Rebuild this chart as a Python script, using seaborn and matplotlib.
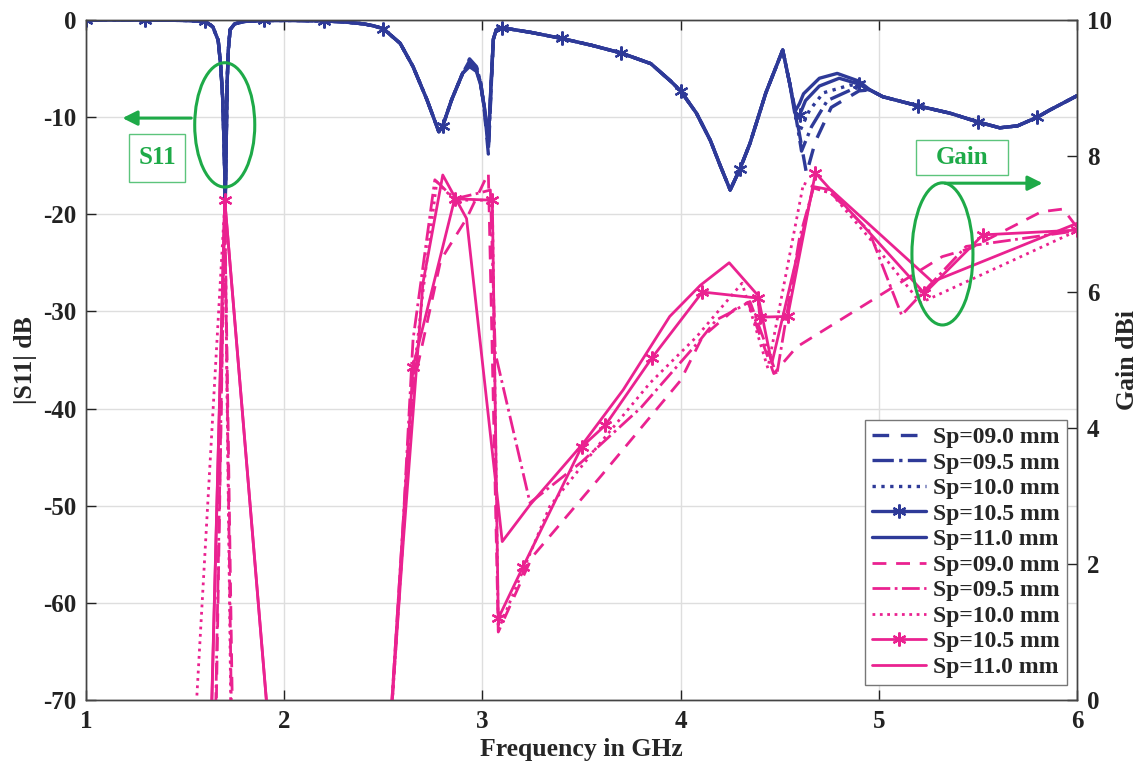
import matplotlib
matplotlib.use("Agg")
import matplotlib.pyplot as plt
import seaborn as sns
from matplotlib.patches import Ellipse, Rectangle
from matplotlib.lines import Line2D

# ---------------- data ----------------
LABELS = ["Sp=09.0 mm", "Sp=09.5 mm", "Sp=10.0 mm", "Sp=10.5 mm", "Sp=11.0 mm"]

# |S11| (dB) -- common part 1.0 .. 2.9 GHz
S11_F_A = [1.0, 1.3, 1.5, 1.6, 1.64, 1.667, 1.68, 1.69, 1.698, 1.703, 1.708, 1.712, 1.718,
           1.727, 1.75, 1.8, 1.9, 2.05, 2.2, 2.3, 2.4, 2.45, 2.5, 2.585, 2.65, 2.72, 2.78,
           2.8, 2.845, 2.9]
S11_A = [0.0, 0.0, -0.05, -0.15, -0.7, -2.1, -4.8, -8.2, -14.0, -18.3, -12.0, -6.5, -3.1,
         -1.0, -0.4, -0.15, -0.05, -0.05, -0.1, -0.2, -0.4, -0.6, -0.9, -2.4, -4.8, -8.2, -11.5,
         -10.9, -8.2, -5.5]
# per-series part 2.935 .. 3.045 GHz
S11_F_B = [2.935, 2.97, 2.99, 3.01, 3.03, 3.045]
S11_B_090 = [-4.0, -4.8, -6.2, -9.4, -13.8, -6.6]
S11_B_095 = [-4.2, -4.9, -6.3, -9.2, -13.4, -6.4]
S11_B_100 = [-4.4, -5.0, -6.4, -9.0, -13.0, -6.2]
S11_B_105 = [-4.6, -5.2, -6.5, -9.0, -12.6, -6.0]
S11_B_110 = [-4.8, -5.3, -6.6, -9.0, -12.2, -6.0]
# common part 3.055 .. 4.55 GHz
S11_F_C = [3.055, 3.07, 3.1, 3.25, 3.4, 3.55, 3.7, 3.85, 3.95, 4.0, 4.08, 4.15, 4.2, 4.25,
           4.3, 4.35, 4.43, 4.515, 4.55]
S11_C = [-2.0, -1.0, -0.8, -1.3, -1.9, -2.6, -3.4, -4.5, -6.3, -7.3, -9.6, -12.4, -15.0,
         -17.5, -15.3, -12.7, -7.5, -3.1, -6.5]
# per-series part 4.55 .. 4.95 GHz
S11_F_D_090 = [4.58, 4.635, 4.68, 4.76, 4.9]
S11_D_090 = [-9.5, -15.8, -12.5, -9.0, -7.3]
S11_F_D_095 = [4.57, 4.61, 4.66, 4.74, 4.88]
S11_D_095 = [-8.5, -13.5, -11.0, -8.3, -7.0]
S11_F_D_100 = [4.56, 4.6, 4.65, 4.72, 4.855, 4.9]
S11_D_100 = [-7.5, -11.5, -9.3, -7.5, -6.7, -6.8]
S11_F_D_105 = [4.585, 4.6, 4.63, 4.7, 4.8, 4.9]
S11_D_105 = [-10.2, -9.8, -8.3, -6.8, -6.0, -6.6]
S11_F_D_110 = [4.575, 4.6, 4.62, 4.7, 4.79, 4.9]
S11_D_110 = [-9.5, -8.6, -7.6, -6.0, -5.5, -6.3]
# common tail 4.955 .. 6.0 GHz
S11_F_E = [4.955, 5.02, 5.2, 5.36, 5.5, 5.61, 5.7, 5.8, 5.86, 6.0]
S11_E = [-7.2, -7.9, -8.85, -9.6, -10.5, -11.1, -10.9, -10.0, -9.3, -7.8]
S11_MARK_F = [1.0, 1.3, 1.6, 1.9, 2.2, 2.5, 2.8, 3.1, 3.4, 3.7, 4.0, 4.3, 4.6, 4.9, 5.2, 5.5, 5.8]

# Gain (dBi)
G_F_090 = [1.6, 1.7, 1.8, 2.0, 2.5, 2.65, 2.79, 2.86, 2.92, 3.03, 3.08, 3.25, 3.6, 4.0, 4.11,
           4.27, 4.34, 4.47, 4.585, 5.06, 5.32, 5.46, 5.82, 5.93, 6.0]
G_090 = [-10.0, 7.3, -12.0, -15.0, -2.0, 4.6, 6.47, 6.8, 7.08, 7.75, 1.0, 2.1, 3.3, 4.7, 5.34,
         5.74, 5.85, 4.8, 5.19, 6.05, 6.52, 6.64, 7.18, 7.22, 6.95]
G_F_095 = [1.6, 1.7, 1.8, 2.0, 2.5, 2.6, 2.65, 2.76, 2.86, 2.99, 3.04, 3.065, 3.24, 3.5, 3.8,
           4.1, 4.18, 4.26, 4.35, 4.485, 4.6, 4.67, 4.76, 4.95, 5.115, 5.44, 6.0]
G_095 = [-9.0, 7.3, -15.0, -15.0, -2.0, 2.6, 5.3, 7.65, 7.37, 7.46, 7.5, 5.1, 2.9, 3.5, 4.3,
         5.3, 5.59, 5.71, 5.86, 4.78, 6.8, 7.53, 7.45, 6.9, 5.66, 6.67, 6.9]
G_F_100 = [1.5, 1.7, 1.8, 2.0, 2.5, 2.65, 2.7, 2.77, 2.86, 3.05, 3.08, 3.34, 3.6, 3.845, 4.08,
           4.31, 4.44, 4.62, 4.76, 4.95, 5.21, 6.0]
G_100 = [-3.0, 7.3, -17.0, -15.0, -2.1, 4.7, 6.0, 7.62, 7.35, 7.35, 1.03, 2.85, 3.8, 4.66,
         5.34, 6.13, 4.88, 7.6, 7.45, 6.8, 5.84, 6.9]
G_F_105 = [1.6, 1.7, 2.0, 2.5, 2.65, 2.86, 3.05, 3.08, 3.205, 3.5, 3.62, 3.855, 4.11, 4.39,
           4.4, 4.54, 4.68, 5.23, 5.525, 6.0]
G_105 = [-3.9, 7.35, -3.15, -2.0, 4.9, 7.37, 7.35, 1.2, 1.96, 3.72, 4.04, 5.03, 6.0, 5.91,
         5.63, 5.64, 7.75, 5.98, 6.84, 6.91]
G_F_110 = [1.6, 1.7, 2.0, 2.5, 2.6, 2.7, 2.8, 2.92, 3.1, 3.24, 3.51, 3.71, 3.945, 4.1, 4.245,
           4.39, 4.46, 4.67, 4.76, 5.27, 6.0]
G_110 = [-4.0, 7.35, -3.15, -1.9, 2.3, 6.13, 7.72, 7.08, 2.33, 2.87, 3.78, 4.56, 5.64, 6.1,
         6.43, 5.95, 4.95, 7.55, 7.5, 6.15, 7.01]

X_TICKS = [1, 2, 3, 4, 5, 6]
S11_TICKS = [0, -10, -20, -30, -40, -50, -60, -70]
G_TICKS = [0, 2, 4, 6, 8, 10]

# ---------------- style ----------------
BLUE = "#2E3A98"
PINK = "#EA2290"
GREEN = "#1EAA48"
ASTER = (6, 2, 0)

sns.set_theme(style="white")
plt.rcParams["font.family"] = ["Liberation Serif", "DejaVu Serif"]
plt.rcParams["font.weight"] = "bold"
plt.rcParams["axes.labelweight"] = "bold"
plt.rcParams["axes.unicode_minus"] = False
FS = 18
FS_LEG = 17

fig = plt.figure(figsize=(11.39, 7.68), dpi=100)
ax = fig.add_axes([0.0755, 0.0885, 0.8701, 0.8855])
ax2 = ax.twinx()

styles = [dict(linestyle=(0, (5, 3.5))), dict(linestyle="-."), dict(linestyle=":"),
          dict(linestyle="-", marker=ASTER), dict(linestyle="-")]

s11_sets = [
    (S11_F_A + S11_F_B + S11_F_C + S11_F_D_090 + S11_F_E, S11_A + S11_B_090 + S11_C + S11_D_090 + S11_E),
    (S11_F_A + S11_F_B + S11_F_C + S11_F_D_095 + S11_F_E, S11_A + S11_B_095 + S11_C + S11_D_095 + S11_E),
    (S11_F_A + S11_F_B + S11_F_C + S11_F_D_100 + S11_F_E, S11_A + S11_B_100 + S11_C + S11_D_100 + S11_E),
    (S11_F_A + S11_F_B + S11_F_C + S11_F_D_105 + S11_F_E, S11_A + S11_B_105 + S11_C + S11_D_105 + S11_E),
    (S11_F_A + S11_F_B + S11_F_C + S11_F_D_110 + S11_F_E, S11_A + S11_B_110 + S11_C + S11_D_110 + S11_E),
]
gain_sets = [(G_F_090, G_090), (G_F_095, G_095), (G_F_100, G_100), (G_F_105, G_105), (G_F_110, G_110)]

handles = []
for (f, s), st, lab in zip(s11_sets, styles, LABELS):
    kw = dict(st)
    if "marker" in kw:
        kw["markevery"] = [i for i, v in enumerate(f) if any(abs(v - m) < 1e-9 for m in S11_MARK_F)]
        kw.update(markersize=10, markeredgewidth=1.6, markeredgecolor=BLUE, markerfacecolor=BLUE)
    sns.lineplot(x=f, y=s, ax=ax, color=BLUE, lw=2.4, sort=False, estimator=None,
                 legend=False, **kw)
    handles.append(Line2D([], [], color=BLUE, lw=2.4, label=lab,
                          **{k: v for k, v in kw.items() if k != "markevery"}))

for (f, g), st, lab in zip(gain_sets, styles, LABELS):
    kw = dict(st)
    if "marker" in kw:
        kw.update(markersize=10, markeredgewidth=1.6, markeredgecolor=PINK, markerfacecolor=PINK)
    sns.lineplot(x=f, y=g, ax=ax2, color=PINK, lw=2.0, sort=False, estimator=None,
                 legend=False, **kw)
    handles.append(Line2D([], [], color=PINK, lw=2.0, label=lab, **kw))

# ---------------- axes ----------------
ax.set_xlim(1, 6)
ax.set_ylim(-70, 0)
ax2.set_ylim(0, 10)
ax.set_xticks(X_TICKS)
ax.set_yticks(S11_TICKS)
ax2.set_yticks(G_TICKS)
ax.set_xticklabels([str(t) for t in X_TICKS])
ax.set_yticklabels([str(t) for t in S11_TICKS])
ax2.set_yticklabels([str(t) for t in G_TICKS])
ax.grid(True, color="#dedede", lw=1.0)
ax2.grid(False)
ax.tick_params(axis="both", direction="in", length=7, width=1, labelsize=FS, pad=7,
               colors="#222222")
ax.tick_params(axis="x", top=True, bottom=True)
ax.tick_params(axis="y", left=True, right=False)
ax2.tick_params(axis="y", direction="in", length=7, width=1, labelsize=FS, pad=7,
                left=False, right=True, colors="#222222")
for a in (ax, ax2):
    for sp in a.spines.values():
        sp.set_color("#444444")
        sp.set_linewidth(1.0)
ax.set_xlabel("Frequency in GHz", fontsize=FS + 0.5, fontweight="bold", labelpad=4)
ax.set_ylabel("|S11| dB", fontsize=FS + 0.5, fontweight="bold", labelpad=4)
ax2.set_ylabel("Gain dBi", fontsize=FS + 0.5, fontweight="bold", labelpad=3)

leg = ax2.legend(handles=handles, loc="lower right", bbox_to_anchor=(0.990, 0.022),
                 borderaxespad=0, frameon=True, fancybox=False,
                 handlelength=2.3, handletextpad=0.3, labelspacing=0.17, borderpad=0.3,
                 prop={"family": ["Liberation Serif"], "weight": "bold", "size": FS_LEG})
leg.get_frame().set_edgecolor("#777777")
leg.get_frame().set_linewidth(1.0)
leg.get_frame().set_alpha(1.0)

# ---------------- annotations ----------------
ax.add_patch(Ellipse((1.70, -10.8), 0.303, 12.8, fill=False, edgecolor=GREEN, lw=2.2, zorder=5))
ax.annotate("", xy=(1.17, -10.1), xytext=(1.545, -10.1),
            arrowprops=dict(arrowstyle="-|>", color=GREEN, lw=2.2, mutation_scale=22))
ax.add_patch(Rectangle((1.217, -16.68), 0.2825, 4.94, fill=True, facecolor="white",
                       edgecolor="#5cc47c", lw=1.0, zorder=5))
ax.text(1.358, -14.2, "S11", color=GREEN, fontsize=FS, fontweight="bold",
        ha="center", va="center", zorder=6)

ax2.add_patch(Ellipse((5.321, 6.56), 0.308, 2.09, fill=False, edgecolor=GREEN, lw=2.2, zorder=5))
ax2.annotate("", xy=(5.84, 7.60), xytext=(5.32, 7.60),
             arrowprops=dict(arrowstyle="-|>", color=GREEN, lw=2.2, mutation_scale=22))
ax2.add_patch(Rectangle((5.186, 7.72), 0.464, 0.515, fill=True, facecolor="white",
                        edgecolor="#5cc47c", lw=1.0, zorder=5))
ax2.text(5.418, 7.98, "Gain", color=GREEN, fontsize=FS, fontweight="bold",
         ha="center", va="center", zorder=6)

fig.savefig("out.png", dpi=100)
